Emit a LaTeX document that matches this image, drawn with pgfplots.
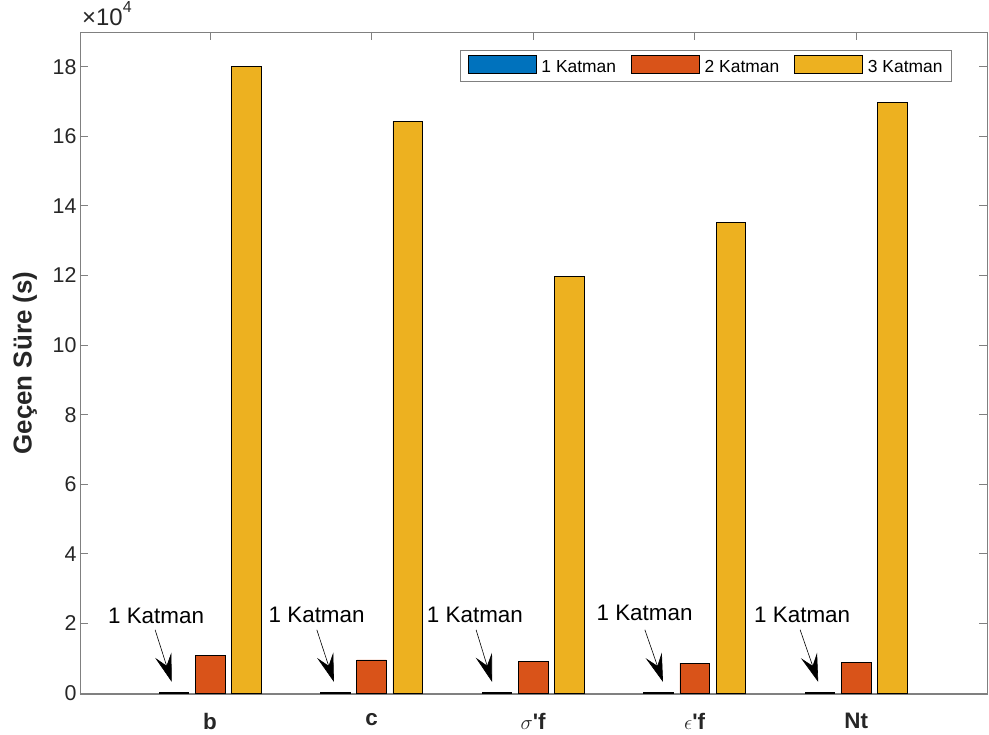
\documentclass[border=0pt]{standalone}
\usepackage{fontspec}
\setmainfont{Liberation Sans}
\usepackage{pgfplots}
\pgfplotsset{compat=1.18}
\usetikzlibrary{arrows.meta}
\definecolor{mblue}{rgb}{0,0.447,0.741}
\definecolor{morange}{rgb}{0.85,0.325,0.098}
\definecolor{myellow}{rgb}{0.929,0.694,0.125}
\definecolor{mtext}{RGB}{38,38,38}
\definecolor{maxis}{RGB}{128,128,128}
\begin{document}
\begin{tikzpicture}
\useasboundingbox (-80bp,-41bp) rectangle (909bp,694bp);
\begin{axis}[
  scale only axis,
  width=907bp, height=662bp,
  at={(0,0)}, anchor=south west,
  xmin=0.195, xmax=5.81,
  ymin=-300, ymax=190000,
  xtick={1,2,3,4,5},
  xticklabels={\textbf{b},\textbf{c},{$\sigma$\textbf{\textquotesingle f}},{$\epsilon$\textbf{\textquotesingle f}},\textbf{Nt}},
  ytick={0,20000,40000,60000,80000,100000,120000,140000,160000,180000},
  yticklabels={0,2,4,6,8,10,12,14,16,18},
  scaled y ticks=false,
  tick align=inside,
  major tick length=8bp,
  xtick pos=both, ytick pos=both,
  axis line style={maxis, line width=0.9bp},
  every tick/.style={maxis, line width=0.9bp},
  tick label style={font=\fontsize{21.5}{25}\selectfont, text=mtext},
  /pgf/number format/assume math mode=true,
  xticklabel style={yshift=-16bp, font=\fontsize{22.5}{26}\selectfont},
  extra y ticks={0},
  extra y tick labels={},
  extra y tick style={grid=major, major grid style={maxis, line width=0.9bp}},
  legend columns=3,
  legend style={at={(0.9614,0.9728)}, anchor=north east, draw=maxis, line width=0.9bp,
    font=\fontsize{17.5}{20}\selectfont, text=black, inner xsep=7bp, inner ysep=5bp,
    /tikz/every even column/.append style={column sep=13bp}},
  legend image code/.code={\draw[#1, draw=black, line width=0.6bp] (0bp,-6bp) rectangle (68bp,11.5bp); \path (71bp,0bp);},
  clip=false,
]
\addplot[ybar, bar width=0.183, bar shift=-0.224, fill=mblue, draw=black, line width=0.6bp]
  coordinates {(1,150) (2,150) (3,150) (4,150) (5,150)};
\addlegendentry{1 Katman}
\addplot[ybar, bar width=0.183, bar shift=0, fill=morange, draw=black, line width=0.6bp]
  coordinates {(1,10850) (2,9500) (3,9000) (4,8550) (5,8800)};
\addlegendentry{2 Katman}
\addplot[ybar, bar width=0.183, bar shift=0.224, fill=myellow, draw=black, line width=0.6bp]
  coordinates {(1,180000) (2,164300) (3,119700) (4,135200) (5,169700)};
\addlegendentry{3 Katman}

\node[font=\fontsize{22.5}{26}\selectfont, inner sep=0pt] at (axis cs:0.666,22200) {1 Katman};
\node[font=\fontsize{22.5}{26}\selectfont, inner sep=0pt] at (axis cs:1.66,22300) {1 Katman};
\node[font=\fontsize{22.5}{26}\selectfont, inner sep=0pt] at (axis cs:2.64,22300) {1 Katman};
\node[font=\fontsize{22.5}{26}\selectfont, inner sep=0pt] at (axis cs:3.69,22900) {1 Katman};
\node[font=\fontsize{22.5}{26}\selectfont, inner sep=0pt] at (axis cs:4.666,22300) {1 Katman};
\tikzset{karrow/.style={line width=0.6bp, -{Stealth[length=28bp, width=17bp, inset=11bp]}}}
\draw[karrow] (axis cs:0.66,18160) -- (axis cs:0.763,3170);
\draw[karrow] (axis cs:1.661,18160) -- (axis cs:1.767,3170);
\draw[karrow] (axis cs:2.647,18160) -- (axis cs:2.746,3170);
\draw[karrow] (axis cs:3.692,18160) -- (axis cs:3.804,3170);
\draw[karrow] (axis cs:4.653,18160) -- (axis cs:4.765,3170);

\node[rotate=90, inner sep=0pt, font=\fontsize{26}{30}\selectfont\bfseries, text=mtext] at ([xshift=-55bp]rel axis cs:0,0.5) {Geçen Süre (s)};
\node[anchor=south west, inner sep=0pt, font=\fontsize{24}{27}\selectfont, text=mtext] at ([xshift=2bp,yshift=6bp]rel axis cs:0,1) {×10\raisebox{0.55em}{\fontsize{16}{19}\selectfont 4}};
\end{axis}
\end{tikzpicture}
\end{document}
